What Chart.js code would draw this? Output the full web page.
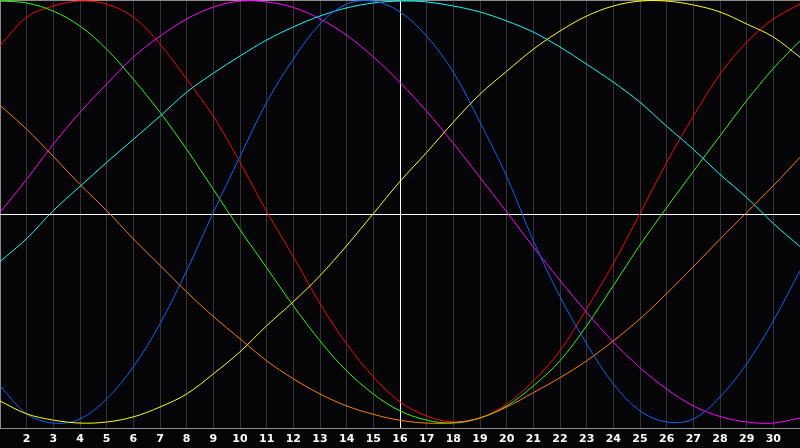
<!DOCTYPE html>
<html>
<head>
<meta charset="utf-8">
<script src="https://cdn.jsdelivr.net/npm/chart.js@4"></script>
<style>
  html, body { margin: 0; padding: 0; background: #050507; }
  #wrap { width: 800px; height: 448px; position: relative; }
</style>
</head>
<body>
<div id="wrap"><canvas id="myChart"></canvas></div>
<script>
var categories = ['1', '2', '3', '4', '5', '6', '7', '8', '9', '10', '11', '12', '13', '14', '15', '16',
    '17', '18', '19', '20', '21', '22', '23', '24', '25', '26', '27', '28', '29', '30', '31'];

var redValues = [78.5, 92, 97.2, 99.5, 98.1, 92, 79.4, 63, 45.7, 24.1, 1.2, -19.9, -41.9, -60.7, -76.1, -87.8,
    -94.4, -97.2, -95.3, -88.8, -78, -63.9, -44.3, -23.2, 0.2, 24.1, 45.7, 65.3, 80.3, 91.1, 98.1];
var greenValues = [99.5, 98.6, 94.8, 87.8, 77, 63, 47.5, 30.2, 11.5, -7.3, -25.1, -42.9, -59.3, -73.3, -84.1, -92,
    -96.3, -97.7, -95.3, -89.7, -80.3, -68.6, -52.2, -33.5, -14.5, 3, 19.9, 36.5, 53, 68, 81];
var magentaValues = [0.7, 16.2, 32.6, 47.5, 60.7, 73.3, 83.1, 91.1, 96.7, 99.5, 99.1, 96.5, 91.2, 83.5, 73.4, 61.5,
    48, 33, 17.1, 1, -15.4, -31, -46, -59.8, -71.8, -81.8, -89.7, -94.6, -97.2, -97.7, -95.3];
var cyanValues = [-22.2, -11.5, 1.6, 12.9, 24.1, 34.9, 45.7, 56.9, 65.8, 73.8, 81.3, 87.4, 92.5, 96.3, 98.6, 99.5,
    99.1, 97.2, 94.4, 90.2, 85, 78, 70, 61.6, 52.2, 41, 30.2, 18.5, 7.7, -4.4, -15.2];
var blueValues = [-80.3, -93.4, -97.7, -95.8, -86.4, -71.4, -51.3, -26.5, 0.7, 26.9, 52.2, 72.4, 88.8, 98.1, 99.5, 94.4,
    83.1, 66.3, 42.9, 17.6, -12.5, -38.6, -60.7, -79.4, -92, -97.2, -95.8, -85.5, -70, -49.9, -26.5];
var yellowValues = [-87.4, -93.4, -96.3, -97.7, -97.2, -94.8, -90.2, -84.1, -74.7, -64.4, -52.2, -41, -28.8, -14.8, 0.2, 15.2,
    28.8, 42.9, 56, 66.7, 77, 85.5, 92.5, 97.2, 99.5, 99.5, 97.7, 94.4, 88.8, 82.7, 73.3];
var orangeValues = [50.8, 39.6, 26.9, 13.8, 1.6, -11.6, -24, -36.4, -47.9, -58.3, -68.6, -77, -84.1, -89.7, -93.6, -96.4,
    -97.7, -97.5, -95.3, -90.2, -83.5, -76.5, -68.6, -59.3, -49, -37.2, -24.6, -11.8, 0.7, 13.2, 26.5];

function line(values, color) {
    return {
        data: values,
        borderColor: color,
        borderWidth: 1,
        fill: false
    };
}

var chartData = {
    labels: categories,
    datasets: [
        line(orangeValues, '#FF7F00'),
        line(yellowValues, '#FFFF00'),
        line(blueValues, '#0A64FF'),
        line(cyanValues, '#00FFFF'),
        line(magentaValues, '#FF00FF'),
        line(greenValues, '#22FF00'),
        line(redValues, '#FF0000')
    ]
};

var ctx = document.getElementById('myChart').getContext('2d');

var myChart = new Chart(ctx, {
    type: 'line',
    data: chartData,
    options: {
        responsive: true,
        maintainAspectRatio: false,
        animation: false,
        layout: {
            padding: 0
        },
        elements: {
            point: { radius: 0, hoverRadius: 0 },
            line: { tension: 0.35 }
        },
        plugins: {
            legend: { display: false },
            tooltip: { enabled: false }
        },
        scales: {
            x: {
                offset: false,
                border: { color: '#8c8c8c' },
                afterFit: function (scale) {
                    scale.height = 20;
                },
                grid: {
                    drawTicks: false,
                    color: function (c) {
                        if (c.index === 15) return '#ffffff';
                        if (c.index === 0) return '#8c8c8c';
                        return '#343434';
                    }
                },
                ticks: {
                    autoSkip: false,
                    maxRotation: 0,
                    padding: 0,
                    color: '#ffffff',
                    font: { family: 'DejaVu Sans', size: 11, weight: 'bold', lineHeight: 2 },
                    callback: function (value, index) {
                        if (index === 0 || index === categories.length - 1) return '';
                        return categories[index];
                    }
                }
            },
            y: {
                min: -100,
                max: 100,
                border: { display: false },
                grid: {
                    drawTicks: false,
                    color: function (c) {
                        if (c.tick.value === 0) return '#ffffff';
                        if (c.tick.value === 100) return '#8c8c8c';
                        return 'rgba(0,0,0,0)';
                    }
                },
                ticks: { display: false, stepSize: 100 }
            }
        }
    }
});
</script>
</body>
</html>
